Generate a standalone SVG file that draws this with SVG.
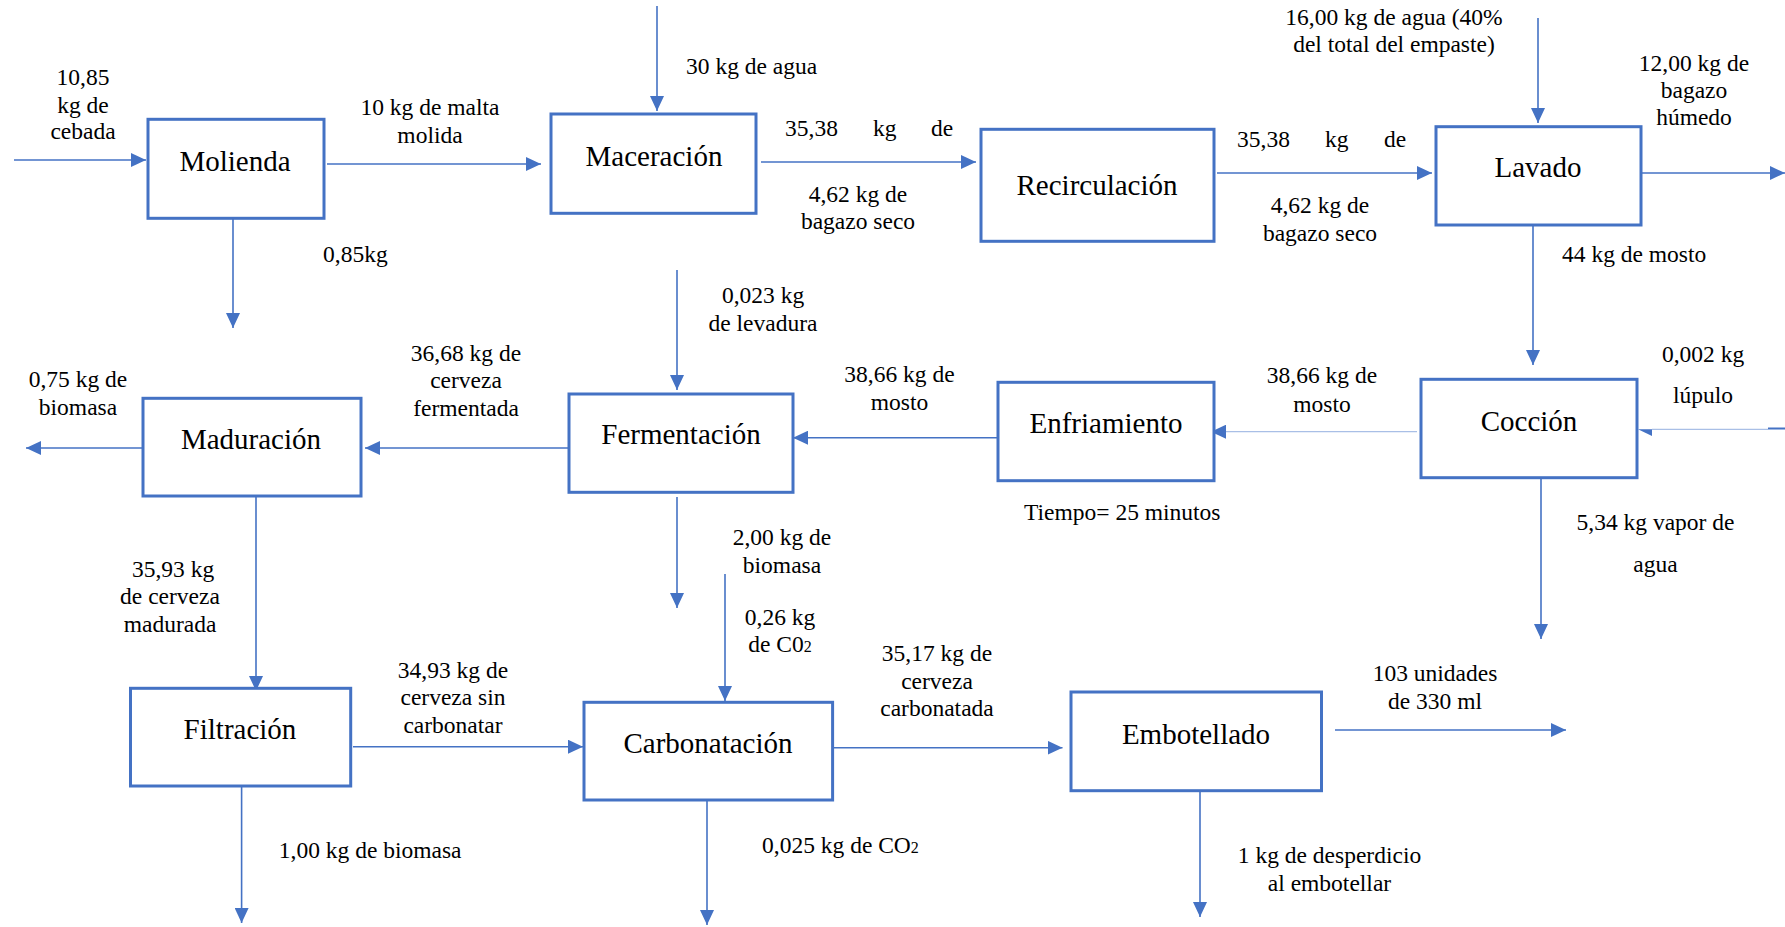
<svg xmlns="http://www.w3.org/2000/svg" width="1785" height="927" viewBox="0 0 1785 927">
<style>
.box{fill:#ffffff;stroke:#4472C4;stroke-width:3}
.nt{font-size:29px;fill:#000;text-anchor:middle}
.t{font-size:23.5px;fill:#000}
.m{text-anchor:middle}
.c{fill:none;stroke:#4472C4;stroke-width:1.6}
.cl{fill:none;stroke:#A9BFE6;stroke-width:1.3}
</style>
<defs>
<marker id="ah" markerUnits="userSpaceOnUse" markerWidth="15" markerHeight="14" refX="15" refY="7" orient="auto">
<path d="M0,0 L15,7 L0,14 z" fill="#4472C4"/>
</marker>
</defs>
<rect width="1785" height="927" fill="#ffffff"/>
<g id="connectors">
<line class="c" x1="14" y1="160" x2="146" y2="160" marker-end="url(#ah)"/>
<line class="c" x1="327" y1="164" x2="541" y2="164" marker-end="url(#ah)"/>
<line class="c" x1="233" y1="219" x2="233" y2="328" marker-end="url(#ah)"/>
<line class="c" x1="657" y1="6" x2="657" y2="111" marker-end="url(#ah)"/>
<line class="c" x1="761" y1="162" x2="976" y2="162" marker-end="url(#ah)"/>
<line class="c" x1="1217" y1="173" x2="1432" y2="173" marker-end="url(#ah)"/>
<line class="c" x1="1538" y1="18" x2="1538" y2="123" marker-end="url(#ah)"/>
<line class="c" x1="1641" y1="173" x2="1785" y2="173" marker-end="url(#ah)"/>
<line class="c" x1="1533" y1="226" x2="1533" y2="365" marker-end="url(#ah)"/>
<line class="cl" x1="1785" y1="429.3" x2="1652" y2="429.3"/>
<line class="c" x1="1768" y1="428.3" x2="1785" y2="428.3"/>
<polygon points="1638,429.3 1652,429.3 1652,436" fill="#4472C4"/>
<line class="cl" x1="1417" y1="431.7" x2="1222" y2="431.7"/>
<line x1="1225" y1="431.7" x2="1211" y2="431.7" stroke="#4472C4" stroke-width="1" marker-end="url(#ah)"/>
<line class="c" x1="1541" y1="478" x2="1541" y2="639" marker-end="url(#ah)"/>
<line class="c" x1="998" y1="437.7" x2="793" y2="437.7" marker-end="url(#ah)"/>
<line class="c" x1="677" y1="270" x2="677" y2="390" marker-end="url(#ah)"/>
<line class="c" x1="570" y1="448" x2="365" y2="448" marker-end="url(#ah)"/>
<line class="c" x1="143" y1="448" x2="26" y2="448" marker-end="url(#ah)"/>
<line class="c" x1="677" y1="497" x2="677" y2="608" marker-end="url(#ah)"/>
<line class="c" x1="256" y1="496" x2="256" y2="691" marker-end="url(#ah)"/>
<line class="c" x1="725" y1="574" x2="725" y2="701" marker-end="url(#ah)"/>
<line class="c" x1="353" y1="746.7" x2="583" y2="746.7" marker-end="url(#ah)"/>
<line class="c" x1="241.6" y1="781" x2="241.6" y2="923" marker-end="url(#ah)"/>
<line class="c" x1="832" y1="747.7" x2="1062.5" y2="747.7" marker-end="url(#ah)"/>
<line class="c" x1="707" y1="800" x2="707" y2="925" marker-end="url(#ah)"/>
<line class="c" x1="1335" y1="730" x2="1566" y2="730" marker-end="url(#ah)"/>
<line class="c" x1="1200" y1="791" x2="1200" y2="917" marker-end="url(#ah)"/>
</g>
<g font-family="'Liberation Serif', 'DejaVu Serif', serif">
<g id="molienda"><rect class="box" x="148" y="119.3" width="176" height="99"/><text class="nt" x="235" y="170.7">Molienda</text></g>
<g id="maceracion"><rect class="box" x="551" y="114" width="205" height="99.3"/><text class="nt" x="654" y="165.7">Maceración</text></g>
<g id="recirculacion"><rect class="box" x="981" y="129.3" width="233" height="112"/><text class="nt" x="1097" y="195">Recirculación</text></g>
<g id="lavado"><rect class="box" x="1436" y="126.7" width="205" height="98.3"/><text class="nt" x="1538" y="176.7">Lavado</text></g>
<g id="coccion"><rect class="box" x="1421" y="379.3" width="216" height="98.4"/><text class="nt" x="1529" y="431">Cocción</text></g>
<g id="enfriamiento"><rect class="box" x="998" y="382.3" width="216" height="98.4"/><text class="nt" x="1106" y="433.3">Enfriamiento</text></g>
<g id="fermentacion"><rect class="box" x="569" y="394" width="224" height="98.3"/><text class="nt" x="681" y="444.3">Fermentación</text></g>
<g id="maduracion"><rect class="box" x="143" y="398.3" width="218" height="97.7"/><text class="nt" x="251" y="449.3">Maduración</text></g>
<g id="filtracion"><rect class="box" x="130.5" y="688.3" width="220.2" height="97.7"/><text class="nt" x="240" y="739">Filtración</text></g>
<g id="carbonatacion"><rect class="box" x="584" y="702.3" width="248.6" height="97.7"/><text class="nt" x="708" y="752.7">Carbonatación</text></g>
<g id="embotellado"><rect class="box" x="1071" y="692" width="250.5" height="98.7"/><text class="nt" x="1196" y="744">Embotellado</text></g>
<g id="labels">
<text class="t m" x="83" y="85">10,85</text>
<text class="t m" x="83" y="112.7">kg de</text>
<text class="t m" x="83" y="139.3">cebada</text>
<text class="t m" x="430" y="115">10 kg de malta</text>
<text class="t m" x="430" y="142.7">molida</text>
<text class="t" x="323" y="262">0,85kg</text>
<text class="t" x="686" y="74">30 kg de agua</text>
<text class="t" x="785" y="135.7">35,38</text>
<text class="t" x="873" y="135.7">kg</text>
<text class="t" x="931" y="135.7">de</text>
<text class="t m" x="858" y="201.7">4,62 kg de</text>
<text class="t m" x="858" y="229.3">bagazo seco</text>
<text class="t" x="1237" y="147.3">35,38</text>
<text class="t" x="1325" y="147.3">kg</text>
<text class="t" x="1384" y="147.3">de</text>
<text class="t m" x="1320" y="213.3">4,62 kg de</text>
<text class="t m" x="1320" y="240.7">bagazo seco</text>
<text class="t m" x="1394" y="25">16,00 kg de agua (40%</text>
<text class="t m" x="1394" y="51.7">del total del empaste)</text>
<text class="t m" x="1694" y="70.7">12,00 kg de</text>
<text class="t m" x="1694" y="97.7">bagazo</text>
<text class="t m" x="1694" y="125">húmedo</text>
<text class="t" x="1562" y="261.7">44 kg de mosto</text>
<text class="t m" x="763" y="302.7">0,023 kg</text>
<text class="t m" x="763" y="330.7">de levadura</text>
<text class="t m" x="466" y="360.7">36,68 kg de</text>
<text class="t m" x="466" y="388">cerveza</text>
<text class="t m" x="466" y="415.7">fermentada</text>
<text class="t m" x="78" y="386.7">0,75 kg de</text>
<text class="t m" x="78" y="415">biomasa</text>
<text class="t m" x="899.5" y="381.7">38,66 kg de</text>
<text class="t m" x="899.5" y="410">mosto</text>
<text class="t m" x="1322" y="383.3">38,66 kg de</text>
<text class="t m" x="1322" y="411.7">mosto</text>
<text class="t m" x="1703" y="361.7">0,002 kg</text>
<text class="t m" x="1703" y="403.3">lúpulo</text>
<text class="t" x="1024" y="520">Tiempo= 25 minutos</text>
<text class="t m" x="1655.5" y="530">5,34 kg vapor de</text>
<text class="t m" x="1655.5" y="571.7">agua</text>
<text class="t m" x="782" y="545">2,00 kg de</text>
<text class="t m" x="782" y="572.7">biomasa</text>
<text class="t m" x="173" y="576.7">35,93 kg</text>
<text class="t m" x="170" y="604.3">de cerveza</text>
<text class="t m" x="170" y="631.7">madurada</text>
<text class="t m" x="780" y="625">0,26 kg</text>
<text class="t m" x="780" y="652.3">de C0<tspan font-size="16">2</tspan></text>
<text class="t m" x="937" y="661">35,17 kg de</text>
<text class="t m" x="937" y="689">cerveza</text>
<text class="t m" x="937" y="715.7">carbonatada</text>
<text class="t m" x="453" y="678.3">34,93 kg de</text>
<text class="t m" x="453" y="705">cerveza sin</text>
<text class="t m" x="453" y="732.7">carbonatar</text>
<text class="t m" x="1435" y="681">103 unidades</text>
<text class="t m" x="1435" y="709">de 330 ml</text>
<text class="t" x="278.8" y="858.3">1,00 kg de biomasa</text>
<text class="t" x="762" y="852.7">0,025 kg de CO<tspan font-size="16">2</tspan></text>
<text class="t m" x="1329.5" y="863.3">1 kg de desperdicio</text>
<text class="t m" x="1329.5" y="890.7">al embotellar</text>
</g>
</g>
</svg>
